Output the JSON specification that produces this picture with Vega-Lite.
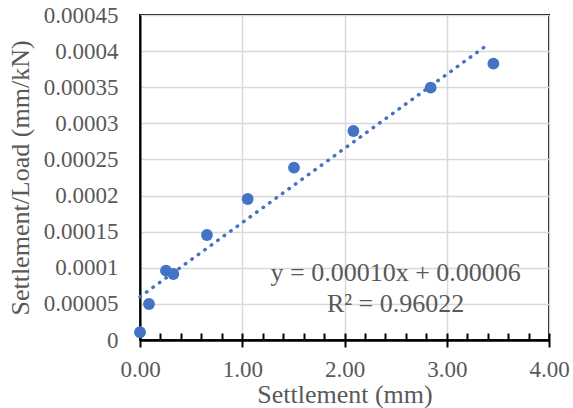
{
  "$schema": "https://vega.github.io/schema/vega-lite/v6.json",
  "width": 409,
  "height": 325,
  "autosize": {"type": "none"},
  "padding": {"left": 140, "top": 15, "right": 24, "bottom": 68},
  "background": "white",
  "config": {
    "view": {"stroke": "black", "strokeWidth": 2},
    "font": "Liberation Serif",
    "axis": {
      "labelFont": "Liberation Serif",
      "titleFont": "Liberation Serif",
      "labelColor": "#595959",
      "titleColor": "#595959",
      "labelFontSize": 23,
      "titleFontSize": 26,
      "titleFontWeight": "normal",
      "gridColor": "#d9d9d9",
      "gridWidth": 1.5,
      "domainColor": "black",
      "domainWidth": 2,
      "tickColor": "black",
      "tickWidth": 2,
      "labelFlush": false,
      "labelOverlap": false
    }
  },
  "datasets": {
    "pts": [
      {"x": 0.0, "y": 0.0000107},
      {"x": 0.088, "y": 0.0000498},
      {"x": 0.254, "y": 0.0000960},
      {"x": 0.326, "y": 0.0000914},
      {"x": 0.655, "y": 0.0001454},
      {"x": 1.053, "y": 0.0001952},
      {"x": 1.506, "y": 0.0002386},
      {"x": 2.087, "y": 0.0002894},
      {"x": 2.843, "y": 0.0003494},
      {"x": 3.456, "y": 0.0003826}
    ],
    "trend": [
      {"x": 0.0, "y": 0.0000598},
      {"x": 3.42, "y": 0.000411}
    ],
    "ann": [
      {"x": 2.5, "y": 0.0000928, "label": "y = 0.00010x + 0.00006"},
      {"x": 2.5, "y": 0.0000498, "label": "R² = 0.96022"}
    ]
  },
  "encoding": {
    "y": {
      "field": "y",
      "type": "quantitative",
      "scale": {"domain": [0, 0.00045], "nice": false, "zero": true},
      "axis": {
        "title": "Settlement/Load (mm/kN)",
        "values": [0, 0.00005, 0.0001, 0.00015, 0.0002, 0.00025, 0.0003, 0.00035, 0.0004, 0.00045],
        "format": "~g",
        "ticks": false,
        "labelPadding": 22,
        "titlePadding": 10,
        "domain": true
      }
    }
  },
  "layer": [
    {
      "data": {"name": "trend"},
      "mark": {"type": "line", "color": "#4472C4", "strokeWidth": 3.5, "strokeDash": [0.5, 7.5], "strokeCap": "round"},
      "encoding": {
        "x": {
          "field": "x",
          "type": "quantitative",
          "scale": {"domain": [0, 4], "nice": false},
          "axis": {
            "orient": "bottom",
            "values": [0, 0.2, 0.4, 0.6, 0.8, 1, 1.2, 1.4, 1.6, 1.8, 2, 2.2, 2.4, 2.6, 2.8, 3, 3.2, 3.4, 3.6, 3.8, 4],
            "labels": false,
            "grid": false,
            "tickSize": -7,
            "title": null
          }
        }
      }
    },
    {
      "data": {"name": "pts"},
      "mark": {"type": "circle", "color": "#4472C4", "opacity": 1, "size": 140},
      "encoding": {
        "x": {
          "field": "x",
          "type": "quantitative",
          "scale": {"domain": [0, 4], "nice": false},
          "axis": {
            "orient": "bottom",
            "title": "Settlement (mm)",
            "values": [0, 1, 2, 3, 4],
            "format": ".2f",
            "tickSize": 7,
            "labelPadding": 11,
            "titlePadding": 0,
            "grid": true
          }
        }
      }
    },
    {
      "data": {"name": "ann"},
      "mark": {"type": "text", "font": "Liberation Serif", "fontSize": 26, "color": "#595959", "align": "center", "baseline": "middle"},
      "encoding": {
        "x": {"field": "x", "type": "quantitative", "scale": {"domain": [0, 4], "nice": false}, "axis": null},
        "text": {"field": "label"}
      }
    }
  ],
  "resolve": {"axis": {"x": "independent"}}
}
